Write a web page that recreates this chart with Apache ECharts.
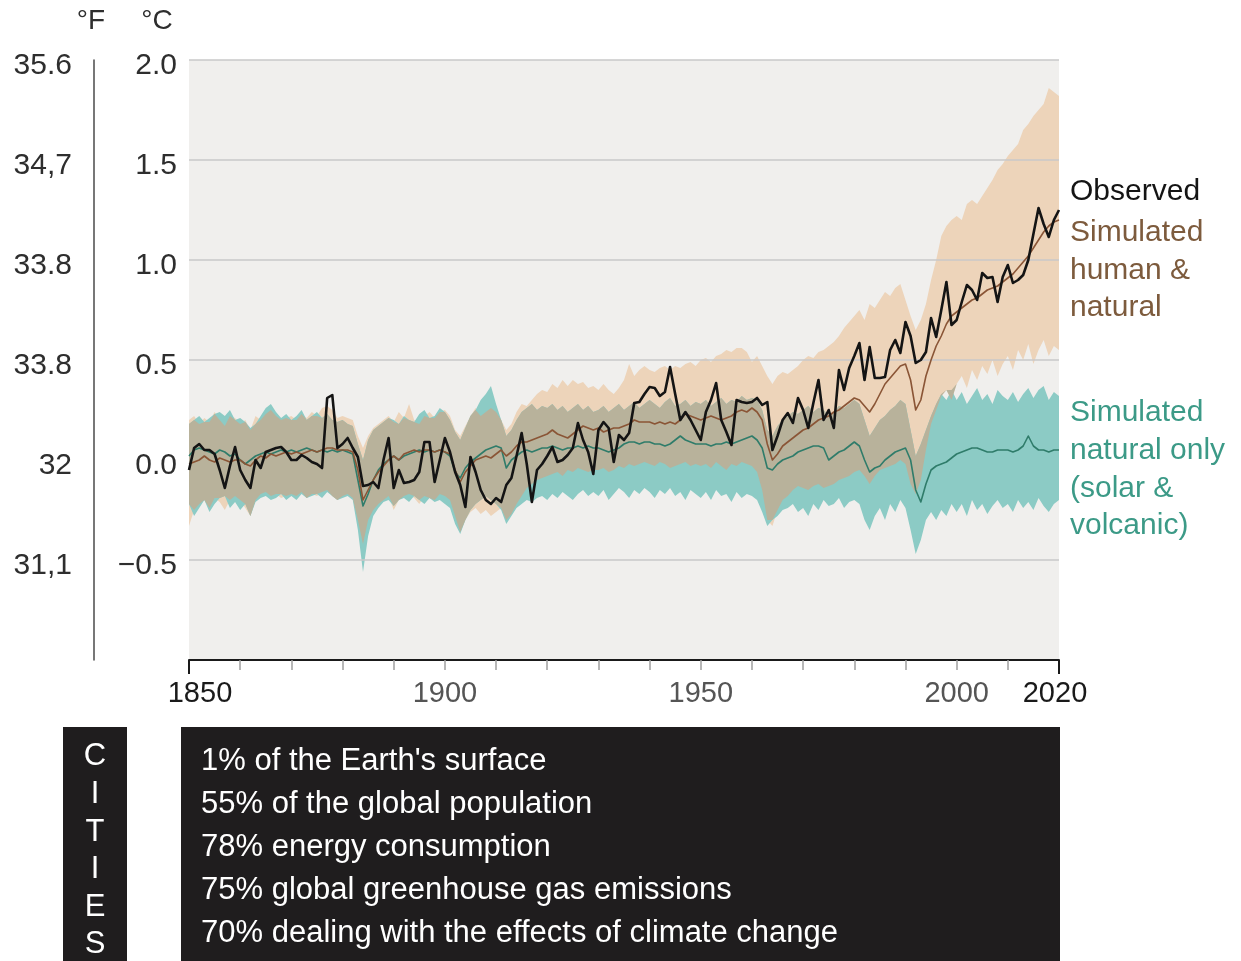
<!DOCTYPE html>
<html>
<head>
<meta charset="utf-8">
<title>Global surface temperature change</title>
<script src="https://cdn.jsdelivr.net/npm/echarts@6/dist/echarts.min.js"></script>
<style>
  html, body { margin: 0; padding: 0; background: #ffffff; }
  #chart { width: 1241px; height: 961px; }
</style>
</head>
<body>
<div id="chart"></div>
<script>
// Years 1850–2020, one value per year in every series below
const years = [];
for (let y = 1850; y <= 2020; y++) years.push(y);

// Observed annual temperature change (°C)
const observed = [
  -0.05, 0.06, 0.08, 0.05, 0.05, 0.03, -0.05, -0.14, -0.03, 0.065,
  -0.05, -0.10, -0.14, 0.00, -0.04, 0.04, 0.05, 0.06, 0.065, 0.04,
  0.00, 0.00, 0.025, 0.01, -0.01, -0.02, -0.04, 0.31, 0.325, 0.06,
  0.08, 0.11, 0.06, 0.015, -0.13, -0.125, -0.11, -0.14, 0.00, 0.11,
  -0.14, -0.05, -0.115, -0.11, -0.10, -0.06, 0.09, 0.09, -0.11, 0.00,
  0.11, 0.04, -0.06, -0.125, -0.235, 0.015, -0.06, -0.15, -0.20, -0.22,
  -0.19, -0.21, -0.125, -0.09, 0.02, 0.135, -0.02, -0.21, -0.05, -0.02,
  0.02, 0.065, -0.01, 0.00, 0.025, 0.06, 0.185, 0.10, 0.04, -0.07,
  0.15, 0.19, 0.16, -0.01, 0.125, 0.10, 0.135, 0.285, 0.29, 0.33,
  0.365, 0.36, 0.32, 0.34, 0.465, 0.33, 0.20, 0.24, 0.20, 0.15,
  0.10, 0.24, 0.30, 0.385, 0.20, 0.14, 0.075, 0.30, 0.29, 0.285,
  0.29, 0.31, 0.275, 0.29, 0.05, 0.12, 0.20, 0.235, 0.185, 0.31,
  0.25, 0.16, 0.285, 0.40, 0.20, 0.25, 0.16, 0.45, 0.35, 0.46,
  0.52, 0.585, 0.40, 0.565, 0.41, 0.41, 0.415, 0.55, 0.60, 0.535,
  0.69, 0.62, 0.485, 0.50, 0.54, 0.71, 0.615, 0.75, 0.89, 0.675,
  0.70, 0.79, 0.875, 0.85, 0.80, 0.935, 0.91, 0.915, 0.79, 0.915,
  0.975, 0.885, 0.90, 0.925, 1.00, 1.13, 1.26, 1.18, 1.115, 1.20,
  1.25
];

// Simulated human & natural: multi-model mean and very likely range
const humanNatMean = [
  -0.02, -0.01, 0.00, 0.02, 0.00, -0.01, 0.01, 0.00, -0.01, 0.00,
  0.00, -0.02, -0.03, 0.00, 0.02, 0.01, 0.03, 0.02, 0.03, 0.04,
  0.03, 0.04, 0.03, 0.04, 0.05, 0.04, 0.05, 0.06, 0.06, 0.05,
  0.05, 0.05, 0.04, -0.05, -0.20, -0.15, -0.10, -0.06, -0.03, 0.00,
  0.02, 0.00, 0.03, 0.04, 0.05, 0.04, 0.05, 0.05, 0.04, 0.05,
  0.04, 0.03, -0.05, -0.11, -0.06, -0.03, 0.00, 0.01, 0.02, 0.01,
  0.03, 0.05, 0.02, 0.04, 0.07, 0.09, 0.09, 0.10, 0.11, 0.12,
  0.13, 0.15, 0.13, 0.12, 0.11, 0.13, 0.15, 0.17, 0.16, 0.15,
  0.16, 0.14, 0.15, 0.16, 0.16, 0.17, 0.18, 0.20, 0.19, 0.19,
  0.19, 0.18, 0.19, 0.18, 0.19, 0.18, 0.20, 0.23, 0.22, 0.21,
  0.20, 0.21, 0.22, 0.21, 0.20, 0.21, 0.22, 0.24, 0.25, 0.24,
  0.26, 0.24, 0.20, 0.08, 0.00, 0.03, 0.07, 0.09, 0.11, 0.13,
  0.15, 0.16, 0.18, 0.20, 0.21, 0.22, 0.24, 0.25, 0.27, 0.29,
  0.31, 0.30, 0.27, 0.24, 0.28, 0.33, 0.38, 0.41, 0.44, 0.47,
  0.48, 0.40, 0.25, 0.30, 0.42, 0.50, 0.57, 0.62, 0.68, 0.72,
  0.74, 0.76, 0.78, 0.80, 0.81, 0.83, 0.85, 0.86, 0.87, 0.89,
  0.91, 0.93, 0.96, 0.99, 1.02, 1.06, 1.10, 1.14, 1.17, 1.19,
  1.20
];
const humanNatHigh = [
  0.20, 0.22, 0.18, 0.21, 0.19, 0.24, 0.20, 0.17, 0.22, 0.21,
  0.18, 0.20, 0.15, 0.22, 0.20, 0.23, 0.25, 0.22, 0.20, 0.21,
  0.22, 0.20, 0.23, 0.21, 0.24, 0.22, 0.26, 0.27, 0.25, 0.21,
  0.22, 0.21, 0.20, 0.12, 0.06, 0.12, 0.16, 0.18, 0.20, 0.22,
  0.19, 0.24, 0.21, 0.28, 0.20, 0.18, 0.22, 0.24, 0.21, 0.24,
  0.25, 0.22, 0.15, 0.12, 0.17, 0.22, 0.26, 0.22, 0.24, 0.26,
  0.24, 0.20, 0.15, 0.18, 0.24, 0.28, 0.27, 0.30, 0.33, 0.35,
  0.34, 0.38, 0.36, 0.40, 0.37, 0.40, 0.38, 0.39, 0.36, 0.37,
  0.35, 0.38, 0.35, 0.33, 0.36, 0.40, 0.48, 0.42, 0.45, 0.47,
  0.45, 0.44, 0.46, 0.47, 0.45, 0.47, 0.46, 0.48, 0.49, 0.47,
  0.50, 0.51, 0.49, 0.52, 0.53, 0.55, 0.54, 0.56, 0.56, 0.54,
  0.49, 0.52, 0.47, 0.42, 0.38, 0.42, 0.44, 0.43, 0.45, 0.47,
  0.50, 0.52, 0.51, 0.54, 0.55, 0.57, 0.59, 0.62, 0.66, 0.69,
  0.72, 0.75, 0.70, 0.78, 0.76, 0.80, 0.84, 0.82, 0.86, 0.88,
  0.80, 0.72, 0.65, 0.70, 0.78, 0.90, 1.00, 1.12, 1.17, 1.20,
  1.22, 1.20, 1.28, 1.30, 1.28, 1.32, 1.36, 1.40, 1.45, 1.48,
  1.52, 1.55, 1.58, 1.65, 1.68, 1.72, 1.75, 1.78, 1.86, 1.84,
  1.82
];
const humanNatLow = [
  -0.33, -0.25, -0.22, -0.20, -0.24, -0.19, -0.21, -0.25, -0.20, -0.18,
  -0.20, -0.24, -0.28, -0.20, -0.17, -0.16, -0.18, -0.17, -0.19, -0.18,
  -0.17, -0.18, -0.16, -0.19, -0.17, -0.18, -0.16, -0.15, -0.18, -0.20,
  -0.18, -0.17, -0.19, -0.30, -0.42, -0.30, -0.25, -0.22, -0.20, -0.18,
  -0.25, -0.20, -0.18, -0.17, -0.19, -0.22, -0.18, -0.19, -0.20, -0.17,
  -0.18, -0.20, -0.28, -0.36, -0.30, -0.26, -0.24, -0.27, -0.25, -0.28,
  -0.26, -0.24, -0.30, -0.27, -0.22, -0.18, -0.14, -0.12, -0.10, -0.09,
  -0.08, -0.07, -0.06, -0.08, -0.05, -0.06, -0.04, -0.05, -0.06, -0.05,
  -0.05, -0.04, -0.06, -0.05, -0.03, -0.04, -0.02, -0.03, -0.02, -0.01,
  -0.02, -0.03, -0.01, -0.02, -0.04, -0.03, -0.02, -0.01, -0.03, -0.02,
  -0.03, -0.02, -0.04, -0.01, -0.03, -0.05, -0.02, -0.03, -0.01, -0.02,
  -0.03, -0.06, -0.15, -0.30, -0.33, -0.25, -0.20, -0.18, -0.15, -0.13,
  -0.14, -0.15, -0.13, -0.12, -0.14, -0.13, -0.12, -0.10, -0.09, -0.08,
  -0.06, -0.05, -0.08, -0.12, -0.08, -0.05, -0.04, -0.03, -0.02, 0.00,
  -0.02, -0.12, -0.17, -0.10, 0.05, 0.18, 0.25, 0.32, 0.35, 0.30,
  0.38, 0.42, 0.36, 0.45, 0.40, 0.47, 0.43, 0.50, 0.42, 0.48,
  0.52, 0.45, 0.55, 0.50, 0.58, 0.48, 0.55, 0.60, 0.52, 0.57,
  0.55
];

// Simulated natural only (solar & volcanic): mean and very likely range
const naturalMean = [
  0.02, 0.05, 0.06, 0.05, 0.04, 0.03, 0.05, 0.04, 0.02, 0.03,
  0.00, -0.02, 0.00, 0.02, 0.03, 0.04, 0.03, 0.04, 0.05, 0.04,
  0.05, 0.04, 0.05, 0.06, 0.05, 0.04, 0.05, 0.04, 0.05, 0.04,
  0.05, 0.04, 0.03, -0.10, -0.23, -0.17, -0.10, -0.05, -0.02, 0.00,
  0.02, 0.00, 0.02, 0.03, 0.04, 0.05, 0.04, 0.05, 0.04, 0.05,
  0.04, 0.02, -0.06, -0.09, -0.04, -0.01, 0.01, 0.03, 0.05, 0.06,
  0.07, 0.06, -0.04, 0.00, 0.02, 0.04, 0.05, 0.04, 0.05, 0.06,
  0.06, 0.07, 0.06, 0.05, 0.06, 0.06, 0.07, 0.06, 0.07, 0.06,
  0.06, 0.05, 0.04, 0.05, 0.06, 0.08, 0.09, 0.09, 0.08, 0.09,
  0.09, 0.08, 0.08, 0.07, 0.08, 0.10, 0.12, 0.10, 0.09, 0.08,
  0.08, 0.08, 0.07, 0.08, 0.08, 0.09, 0.08, 0.09, 0.10, 0.11,
  0.12, 0.10, 0.06, -0.04, -0.05, -0.02, 0.00, 0.01, 0.02, 0.04,
  0.05, 0.06, 0.07, 0.07, 0.06, 0.00, 0.02, 0.04, 0.05, 0.07,
  0.09, 0.07, 0.00, -0.06, -0.04, -0.03, 0.00, 0.02, 0.04, 0.05,
  0.06, 0.00, -0.15, -0.21, -0.12, -0.05, -0.03, -0.02, -0.01, 0.01,
  0.03, 0.04, 0.05, 0.06, 0.06, 0.05, 0.04, 0.04, 0.05, 0.05,
  0.05, 0.04, 0.05, 0.07, 0.12, 0.07, 0.05, 0.05, 0.04, 0.05,
  0.05
];
const naturalHigh = [
  0.18, 0.20, 0.22, 0.19, 0.21, 0.23, 0.24, 0.22, 0.25, 0.20,
  0.21, 0.19, 0.16, 0.18, 0.22, 0.26, 0.28, 0.24, 0.21, 0.23,
  0.20, 0.22, 0.25, 0.20, 0.22, 0.24, 0.21, 0.23, 0.20, 0.19,
  0.20, 0.18, 0.17, 0.08, 0.00, 0.10, 0.15, 0.17, 0.19, 0.21,
  0.20, 0.18, 0.22, 0.20, 0.19, 0.23, 0.25, 0.21, 0.22, 0.26,
  0.24, 0.20, 0.14, 0.10, 0.16, 0.22, 0.25, 0.30, 0.33, 0.37,
  0.28, 0.20, 0.12, 0.15, 0.20, 0.24, 0.26, 0.28, 0.25, 0.27,
  0.26, 0.28, 0.25, 0.27, 0.24, 0.26, 0.28, 0.25, 0.27, 0.24,
  0.25, 0.27, 0.24, 0.26, 0.28, 0.25, 0.27, 0.29, 0.26, 0.28,
  0.30, 0.28, 0.26, 0.29, 0.31, 0.27, 0.28, 0.30, 0.27, 0.29,
  0.28, 0.30, 0.27, 0.29, 0.31, 0.28, 0.30, 0.29, 0.32, 0.30,
  0.31, 0.30, 0.25, 0.15, 0.12, 0.17, 0.20, 0.22, 0.24, 0.23,
  0.25, 0.27, 0.24, 0.26, 0.25, 0.22, 0.24, 0.27, 0.26, 0.28,
  0.30, 0.28, 0.20, 0.12, 0.16, 0.20, 0.22, 0.25, 0.27, 0.30,
  0.28, 0.15, 0.02, 0.08, 0.15, 0.22, 0.28, 0.33, 0.30, 0.35,
  0.30, 0.34, 0.28, 0.32, 0.36, 0.30, 0.33, 0.28, 0.35, 0.32,
  0.30, 0.34, 0.29, 0.33, 0.36, 0.31, 0.35, 0.37, 0.30, 0.34,
  0.32
];
const naturalLow = [
  -0.22, -0.28, -0.24, -0.20, -0.26, -0.22, -0.19, -0.18, -0.24, -0.21,
  -0.25, -0.22, -0.28, -0.21, -0.19, -0.18, -0.20, -0.19, -0.17, -0.20,
  -0.18, -0.20, -0.17, -0.19, -0.18, -0.17, -0.19, -0.16, -0.18, -0.20,
  -0.19, -0.18, -0.20, -0.35, -0.56, -0.38, -0.28, -0.24, -0.21, -0.20,
  -0.23, -0.20, -0.19, -0.21, -0.18, -0.20, -0.22, -0.19, -0.21, -0.20,
  -0.22, -0.24, -0.32, -0.37, -0.30, -0.25, -0.22, -0.20, -0.18, -0.20,
  -0.22, -0.25, -0.32, -0.28, -0.24, -0.22, -0.20, -0.21, -0.19, -0.18,
  -0.20, -0.17, -0.19, -0.16, -0.18, -0.20, -0.17, -0.15, -0.18, -0.16,
  -0.18, -0.15, -0.20, -0.17, -0.14, -0.16, -0.19, -0.15, -0.17, -0.14,
  -0.16, -0.19, -0.15, -0.17, -0.14, -0.18, -0.16, -0.20, -0.15, -0.17,
  -0.19, -0.16, -0.20, -0.15, -0.18, -0.17, -0.21, -0.16, -0.19, -0.17,
  -0.18, -0.20, -0.26, -0.33, -0.30, -0.28, -0.25, -0.24, -0.22, -0.26,
  -0.24, -0.28, -0.22, -0.25, -0.20, -0.23, -0.22, -0.19, -0.24, -0.21,
  -0.20, -0.22, -0.30, -0.35, -0.28, -0.24, -0.30, -0.22, -0.26, -0.20,
  -0.24, -0.35, -0.47, -0.40, -0.30, -0.26, -0.30, -0.25, -0.28, -0.22,
  -0.26, -0.22, -0.28, -0.20, -0.25, -0.22, -0.27, -0.23, -0.20, -0.24,
  -0.22, -0.26, -0.20, -0.24, -0.21, -0.25, -0.19, -0.23, -0.26, -0.22,
  -0.20
];

// Axis ticks: °C values and the matching °F labels as printed
const celsiusTicks = [-0.5, 0, 0.5, 1.0, 1.5, 2.0];
const fahrenheitLabels = ['31,1', '32', '33.8', '33.8', '34,7', '35.6'];
const yearLabels = [1850, 1900, 1950, 2000, 2020];

// Legend text beside the plot
const legendObserved = 'Observed';
const legendHuman = ['Simulated', 'human &', 'natural'];
const legendNatural = ['Simulated', 'natural only', '(solar &', 'volcanic)'];

// Panel below the chart
const citiesWord = 'CITIES';
const citiesFacts = [
  "1% of the Earth's surface",
  '55% of the global population',
  '78% energy consumption',
  '75% global greenhouse gas emissions',
  '70% dealing with the effects of climate change'
];

const FONT = '"Liberation Sans", Arial, Helvetica, sans-serif';
const COLORS = {
  observed: '#141414',
  humanLine: '#8a5536',
  humanText: '#7d5b3d',
  humanBand: '#edd4ba',
  naturalLine: '#2f7c6a',
  naturalText: '#3c9a87',
  naturalBand: '#8ccbc5',
  overlapBand: '#b8b29b'
};

// Overlap of the two ranges, where both bands cover the same temperatures
const overlapLow = years.map((_, i) => Math.max(humanNatLow[i], naturalLow[i]));
const overlapHigh = years.map((_, i) => Math.max(overlapLow[i], Math.min(humanNatHigh[i], naturalHigh[i])));

const pairs = arr => arr.map((v, i) => [years[i], v]);

// Shaded range drawn as one polygon through the cartesian coordinate system
function bandSeries(name, low, high, color) {
  return {
    name: name,
    type: 'custom',
    z: 1,
    silent: true,
    clip: true,
    data: [[years[0], low[0]]],
    renderItem: function (params, api) {
      const pts = [];
      for (let i = 0; i < years.length; i++) pts.push(api.coord([years[i], high[i]]));
      for (let i = years.length - 1; i >= 0; i--) pts.push(api.coord([years[i], low[i]]));
      return { type: 'polygon', shape: { points: pts }, style: { fill: color, stroke: null } };
    }
  };
}

function lineSeries(name, data, color, width, z) {
  return {
    name: name,
    type: 'line',
    data: pairs(data),
    symbol: 'none',
    z: z,
    silent: true,
    lineStyle: { color: color, width: width, join: 'round' }
  };
}

const isEndYear = v => Number(v) === 1850 || Number(v) === 2020;

// Tick labels sit a little below their grid lines
const tickLabelRich = {
  t: { padding: [12, 0, 0, 0], fontFamily: FONT, fontSize: 30, color: '#2e2e2e' }
};
const celsiusText = v => v < 0 ? '\u2212' + Math.abs(v).toFixed(1) : v.toFixed(1);

const chart = echarts.init(document.getElementById('chart'), null, { renderer: 'canvas' });

chart.setOption({
  backgroundColor: '#ffffff',
  animation: false,
  grid: {
    left: 189, right: 182, top: 60, bottom: 301,
    show: true, backgroundColor: '#f0efed', borderWidth: 0
  },
  xAxis: [
    {
      type: 'value', min: 1850, max: 2020, interval: 10, z: 4,
      axisLine: { show: true, onZero: false, lineStyle: { color: '#1a1a1a', width: 2 } },
      axisTick: { show: true, length: 10, lineStyle: { color: '#a0a0a0', width: 1.5 } },
      splitLine: { show: false },
      axisLabel: {
        customValues: yearLabels,
        margin: 19,
        fontFamily: FONT, fontSize: 29,
        color: v => isEndYear(v) ? '#1a1a1a' : '#555555',
        formatter: v => Number(v) === 1850 ? '{first|1850}' : (Number(v) === 2020 ? '{last|2020}' : String(v)),
        rich: {
          first: { padding: [0, 0, 0, 22], fontFamily: FONT, fontSize: 29, color: '#1a1a1a' },
          last: { padding: [0, 8, 0, 0], fontFamily: FONT, fontSize: 29, color: '#1a1a1a' }
        }
      }
    },
    {
      // end ticks at 1850 and 2020
      type: 'value', min: 1850, max: 2020, position: 'bottom', z: 4,
      axisLine: { show: false, onZero: false },
      axisTick: { show: true, customValues: [1850, 2020], length: 14, lineStyle: { color: '#1a1a1a', width: 2 } },
      axisLabel: { show: false },
      splitLine: { show: false }
    }
  ],
  yAxis: [
    {
      type: 'value', min: -1, max: 2, interval: 0.5, z: 3,
      axisLine: { show: false },
      axisTick: { show: false },
      splitLine: {
        show: true,
        lineStyle: {
          width: 1.5,
          color: ['rgba(0,0,0,0)', '#c9c9c9', 'rgba(0,0,0,0)', '#c9c9c9', '#c9c9c9', '#c9c9c9', '#c9c9c9']
        }
      },
      axisLabel: {
        margin: 12,
        fontFamily: FONT, fontSize: 30, color: '#2e2e2e',
        rich: tickLabelRich,
        formatter: v => v <= -1 ? '' : '{t|' + celsiusText(v) + '}'
      }
    },
    {
      type: 'value', min: -1, max: 2, interval: 0.5, position: 'left', offset: 95,
      axisLine: { show: true, lineStyle: { color: '#4a4a4a', width: 1.5 } },
      axisTick: { show: false },
      splitLine: { show: false },
      axisLabel: {
        margin: 22,
        fontFamily: FONT, fontSize: 30, color: '#2e2e2e',
        rich: tickLabelRich,
        formatter: v => {
          const i = celsiusTicks.indexOf(v);
          return i >= 0 ? '{t|' + fahrenheitLabels[i] + '}' : '';
        }
      }
    }
  ],
  series: [
    bandSeries('Simulated human & natural range', humanNatLow, humanNatHigh, COLORS.humanBand),
    bandSeries('Simulated natural only range', naturalLow, naturalHigh, COLORS.naturalBand),
    bandSeries('Overlap of ranges', overlapLow, overlapHigh, COLORS.overlapBand),
    lineSeries('Simulated natural only', naturalMean, COLORS.naturalLine, 1.6, 5),
    lineSeries('Simulated human & natural', humanNatMean, COLORS.humanLine, 1.6, 6),
    lineSeries('Observed', observed, COLORS.observed, 2.6, 7)
  ],
  graphic: [
    { type: 'text', x: 91, y: 21, style: { text: '\u00b0F', font: '28px ' + FONT, fill: '#2e2e2e', textAlign: 'center', textVerticalAlign: 'middle' } },
    { type: 'text', x: 157, y: 21, style: { text: '\u00b0C', font: '28px ' + FONT, fill: '#2e2e2e', textAlign: 'center', textVerticalAlign: 'middle' } },

    { type: 'text', x: 1070, y: 192, style: { text: legendObserved, font: '30px ' + FONT, fill: COLORS.observed, textAlign: 'left', textVerticalAlign: 'middle' } },
    { type: 'text', x: 1070, y: 214, style: { text: legendHuman.join('\n'), font: '30px ' + FONT, lineHeight: 37.5, fill: COLORS.humanText, textAlign: 'left', textVerticalAlign: 'top' } },
    { type: 'text', x: 1070, y: 394, style: { text: legendNatural.join('\n'), font: '30px ' + FONT, lineHeight: 37.7, fill: COLORS.naturalText, textAlign: 'left', textVerticalAlign: 'top' } },

    { type: 'rect', shape: { x: 63, y: 727, width: 64, height: 240 }, style: { fill: '#1f1d1e' } },
    { type: 'text', x: 95, y: 738, style: { text: citiesWord.split('').join('\n'), font: '31px ' + FONT, lineHeight: 37.6, fill: '#ffffff', textAlign: 'center', textVerticalAlign: 'top' } },
    { type: 'rect', shape: { x: 181, y: 727, width: 879, height: 240 }, style: { fill: '#1f1d1e' } },
    { type: 'text', x: 201, y: 740, style: { text: citiesFacts.join('\n'), font: '31px ' + FONT, lineHeight: 43, fill: '#ffffff', textAlign: 'left', textVerticalAlign: 'top' } }
  ]
});
</script>
</body>
</html>
